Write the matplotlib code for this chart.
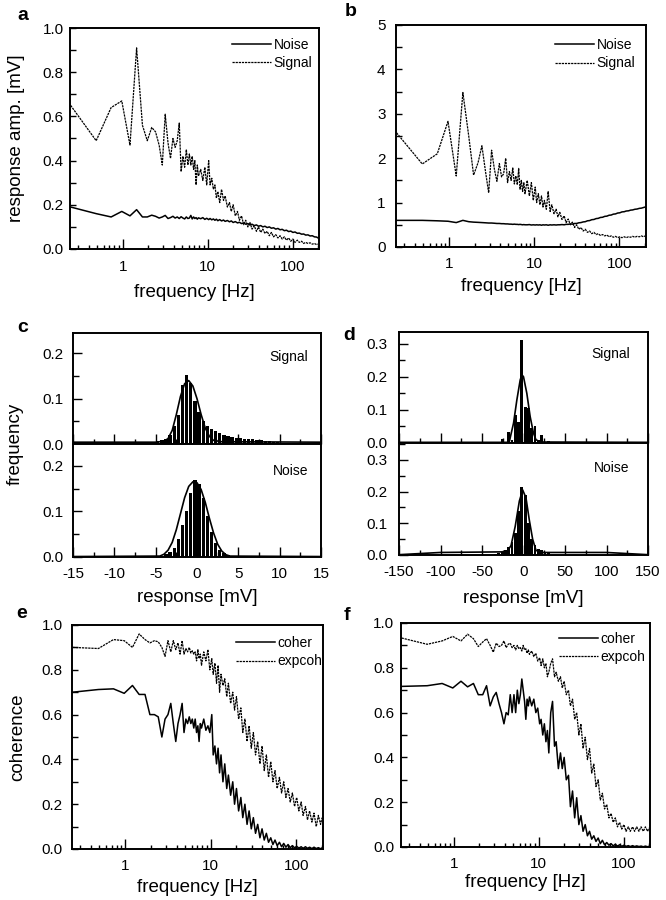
import matplotlib
matplotlib.use('Agg')
import matplotlib.pyplot as plt
from matplotlib.ticker import MultipleLocator, FormatStrFormatter, FixedLocator, LogLocator, NullFormatter

plt.rcParams['font.family'] = ['Liberation Sans', 'DejaVu Sans']
plt.rcParams['axes.unicode_minus'] = False

# frequency axis shared by the spectra (Hz)
freq = [0.244, 0.488, 0.732, 0.977, 1.22, 1.46, 1.71, 1.95, 2.2, 2.44,
        2.69, 2.93, 3.17, 3.42, 3.66, 3.91, 4.15, 4.39, 4.64, 4.88,
        5.13, 5.37, 5.62, 5.86, 6.1, 6.35, 6.59, 6.84, 7.08, 7.32,
        7.57, 7.81, 8.3, 8.79, 9.28, 9.77, 10.3, 10.7, 11.2, 11.7,
        12.2, 12.7, 13.2, 13.9, 14.6, 15.4, 16.1, 17.1, 18.1, 19.0,
        20.0, 21.2, 22.5, 23.7, 25.1, 26.6, 28.1, 29.8, 31.5, 33.4,
        35.4, 37.6, 39.8, 42.2, 44.7, 47.4, 50.3, 53.3, 56.4, 59.8,
        63.5, 67.3, 71.3, 75.6, 80.1, 84.9, 90.0, 95.4, 101, 107,
        114, 120, 128, 135, 143, 152, 161, 171, 181, 192,
        200]

# panel a - response amplitude [mV]
a_noise = [0.19, 0.16, 0.145, 0.17, 0.15, 0.178, 0.145, 0.145, 0.153, 0.148,
           0.14, 0.145, 0.152, 0.138, 0.142, 0.148, 0.14, 0.145, 0.138, 0.146,
           0.14, 0.136, 0.145, 0.138, 0.14, 0.152, 0.136, 0.145, 0.138, 0.142,
           0.135, 0.141, 0.137, 0.142, 0.134, 0.139, 0.133, 0.138, 0.132, 0.136,
           0.13, 0.135, 0.128, 0.133, 0.127, 0.131, 0.125, 0.129, 0.123, 0.127,
           0.12, 0.124, 0.118, 0.121, 0.115, 0.118, 0.112, 0.115, 0.109, 0.112,
           0.106, 0.109, 0.103, 0.106, 0.1, 0.103, 0.097, 0.1, 0.094, 0.096,
           0.09, 0.093, 0.087, 0.089, 0.083, 0.085, 0.079, 0.081, 0.075, 0.077,
           0.071, 0.072, 0.067, 0.068, 0.063, 0.064, 0.059, 0.06, 0.055, 0.054,
           0.05]
a_signal = [0.65, 0.49, 0.64, 0.67, 0.47, 0.91, 0.56, 0.49, 0.55, 0.53,
            0.47, 0.38, 0.61, 0.48, 0.41, 0.50, 0.46, 0.49, 0.57, 0.35,
            0.42, 0.37, 0.45, 0.38, 0.43, 0.38, 0.42, 0.36, 0.40, 0.29,
            0.38, 0.33, 0.36, 0.31, 0.37, 0.29, 0.40, 0.29, 0.32, 0.27,
            0.29, 0.23, 0.26, 0.21, 0.27, 0.22, 0.24, 0.19, 0.21, 0.17,
            0.20, 0.15, 0.17, 0.13, 0.15, 0.11, 0.13, 0.10, 0.12, 0.09,
            0.105, 0.08, 0.10, 0.075, 0.09, 0.07, 0.08, 0.06, 0.075, 0.055,
            0.065, 0.05, 0.06, 0.045, 0.055, 0.04, 0.05, 0.035, 0.045, 0.03,
            0.04, 0.03, 0.035, 0.025, 0.03, 0.025, 0.028, 0.022, 0.025, 0.02,
            0.022]

# panel b
b_noise = [0.6, 0.6, 0.59, 0.58, 0.55, 0.6, 0.57, 0.56, 0.555, 0.55,
           0.545, 0.54, 0.54, 0.535, 0.53, 0.53, 0.525, 0.525, 0.52, 0.52,
           0.515, 0.515, 0.51, 0.515, 0.51, 0.51, 0.505, 0.51, 0.505, 0.5,
           0.505, 0.5, 0.5, 0.505, 0.495, 0.5, 0.495, 0.5, 0.495, 0.5,
           0.49, 0.5, 0.495, 0.5, 0.49, 0.5, 0.495, 0.5, 0.495, 0.5,
           0.5, 0.505, 0.5, 0.51, 0.51, 0.52, 0.515, 0.53, 0.53, 0.545,
           0.55, 0.565, 0.57, 0.59, 0.595, 0.615, 0.62, 0.64, 0.645, 0.665,
           0.67, 0.69, 0.695, 0.715, 0.72, 0.74, 0.745, 0.765, 0.77, 0.79,
           0.795, 0.81, 0.815, 0.83, 0.835, 0.85, 0.855, 0.87, 0.875, 0.89,
           0.9]
b_signal = [2.57, 1.87, 2.1, 2.83, 1.6, 3.48, 2.5, 1.62, 1.9, 2.28,
            1.7, 1.22, 2.18, 1.75, 1.48, 1.88, 1.58, 1.65, 2.0, 1.45,
            1.7, 1.5, 1.78, 1.42, 1.6, 1.4, 1.77, 1.3, 1.5, 1.25,
            1.45, 1.2, 1.5, 1.15, 1.45, 1.05, 1.35, 1.0, 1.2, 0.95,
            1.15, 0.9, 1.05, 0.85, 1.25, 0.8, 0.95, 0.75, 0.85, 0.68,
            0.78, 0.62, 0.7, 0.55, 0.63, 0.5, 0.56, 0.44, 0.5, 0.4,
            0.44, 0.36, 0.4, 0.33, 0.36, 0.3, 0.33, 0.28, 0.3, 0.26,
            0.28, 0.25, 0.27, 0.23, 0.25, 0.22, 0.24, 0.21, 0.23, 0.21,
            0.23, 0.21, 0.23, 0.22, 0.24, 0.22, 0.24, 0.23, 0.25, 0.23,
            0.25]

# panel e - coherence
e_coher = [0.7, 0.712, 0.715, 0.695, 0.73, 0.69, 0.69, 0.6, 0.6, 0.59,
           0.5, 0.58, 0.6, 0.65, 0.56, 0.48, 0.56, 0.6, 0.65, 0.52,
           0.58, 0.56, 0.59, 0.56, 0.58, 0.54, 0.58, 0.52, 0.55, 0.48,
           0.56, 0.54, 0.58, 0.53, 0.55, 0.52, 0.6, 0.42, 0.46, 0.38,
           0.45, 0.34, 0.42, 0.3, 0.38, 0.27, 0.33, 0.24, 0.3, 0.2,
           0.27, 0.17, 0.23, 0.14, 0.2, 0.11, 0.17, 0.09, 0.14, 0.07,
           0.11, 0.05, 0.09, 0.04, 0.07, 0.03, 0.05, 0.02, 0.04, 0.015,
           0.03, 0.01, 0.025, 0.008, 0.02, 0.006, 0.015, 0.005, 0.012, 0.004,
           0.01, 0.003, 0.01, 0.003, 0.008, 0.002, 0.008, 0.002, 0.006, 0.001,
           0.005]
e_expcoh = [0.9, 0.895, 0.935, 0.93, 0.9, 0.96, 0.935, 0.92, 0.93, 0.925,
            0.9, 0.86, 0.93, 0.88, 0.93, 0.89, 0.92, 0.87, 0.93, 0.87,
            0.895, 0.88, 0.9, 0.875, 0.885, 0.87, 0.88, 0.84, 0.89, 0.85,
            0.87, 0.82, 0.88, 0.84, 0.89, 0.8, 0.85, 0.78, 0.83, 0.74,
            0.82, 0.7, 0.78, 0.73, 0.76, 0.68, 0.74, 0.65, 0.7, 0.62,
            0.68, 0.58, 0.63, 0.52, 0.58, 0.48, 0.55, 0.45, 0.52, 0.42,
            0.48, 0.38, 0.46, 0.35, 0.42, 0.32, 0.39, 0.3, 0.35, 0.27,
            0.32, 0.25, 0.3, 0.23, 0.27, 0.21, 0.25, 0.19, 0.23, 0.17,
            0.21, 0.15, 0.19, 0.13, 0.17, 0.12, 0.16, 0.1, 0.15, 0.11,
            0.14]

# panel f
f_coher = [0.717, 0.72, 0.73, 0.71, 0.74, 0.715, 0.73, 0.68, 0.68, 0.72,
           0.63, 0.67, 0.69, 0.64, 0.6, 0.55, 0.6, 0.59, 0.68, 0.6,
           0.68, 0.6, 0.7, 0.64, 0.68, 0.75, 0.7, 0.65, 0.57, 0.66,
           0.63, 0.67, 0.63, 0.66, 0.6, 0.62, 0.55, 0.57, 0.5, 0.55,
           0.47, 0.52, 0.42, 0.6, 0.65, 0.45, 0.47, 0.35, 0.42, 0.35,
           0.4, 0.3, 0.32, 0.18, 0.25, 0.13, 0.22, 0.1, 0.14, 0.07,
           0.1, 0.05, 0.07, 0.035, 0.05, 0.025, 0.04, 0.015, 0.03, 0.01,
           0.02, 0.008, 0.015, 0.005, 0.012, 0.004, 0.01, 0.003, 0.008, 0.003,
           0.006, 0.002, 0.006, 0.002, 0.005, 0.002, 0.004, 0.001, 0.004, 0.001,
           0.003]
f_expcoh = [0.933, 0.905, 0.92, 0.94, 0.92, 0.95, 0.93, 0.895, 0.915, 0.93,
            0.9, 0.87, 0.91, 0.895, 0.9, 0.92, 0.89, 0.905, 0.91, 0.89,
            0.9, 0.88, 0.9, 0.885, 0.89, 0.875, 0.9, 0.88, 0.885, 0.865,
            0.88, 0.86, 0.875, 0.85, 0.865, 0.83, 0.845, 0.81, 0.84, 0.8,
            0.82, 0.76, 0.78, 0.82, 0.84, 0.76, 0.78, 0.74, 0.76, 0.71,
            0.74, 0.68, 0.7, 0.63, 0.66, 0.57, 0.6, 0.5, 0.55, 0.44,
            0.49, 0.39, 0.44, 0.33, 0.37, 0.27, 0.3, 0.21, 0.24, 0.17,
            0.19, 0.13, 0.15, 0.11, 0.13, 0.09, 0.11, 0.08, 0.1, 0.07,
            0.09, 0.07, 0.09, 0.07, 0.09, 0.07, 0.09, 0.07, 0.09, 0.07,
            0.085]

# panel c - histograms (bin centre mV, fraction) and fitted curves
c_sig_bins = [-6.25, -5.75, -5.25, -4.75, -4.25, -3.75, -3.25, -2.75, -2.25, -1.75,
              -1.25, -0.75, -0.25, 0.25, 0.75, 1.25, 1.75, 2.25, 2.75, 3.25,
              3.75, 4.25, 4.75, 5.25, 5.75, 6.25, 6.75, 7.25, 7.75, 8.25,
              8.75, 9.25, 9.75]
c_sig_hist = [0.002, 0.003, 0.004, 0.006, 0.008, 0.012, 0.02, 0.04, 0.065, 0.13,
              0.152, 0.135, 0.095, 0.07, 0.05, 0.04, 0.033, 0.028, 0.024, 0.02,
              0.018, 0.016, 0.014, 0.013, 0.012, 0.011, 0.01, 0.009, 0.008, 0.007,
              0.006, 0.005, 0.004]
c_sig_fit_x = [-15, -5, -4, -3.5, -3, -2.5, -2, -1.5, -1, -0.5, 0, 0.5, 1, 1.5, 2, 3, 15]
c_sig_fit = [0.004, 0.004, 0.006, 0.012, 0.03, 0.065, 0.105, 0.133, 0.14, 0.128,
             0.1, 0.065, 0.035, 0.017, 0.008, 0.005, 0.004]
c_noi_bins = [-4.25, -3.75, -3.25, -2.75, -2.25, -1.75, -1.25, -0.75, -0.25, 0.25,
              0.75, 1.25, 1.75, 2.25, 2.75, 3.25, 3.75, 4.25]
c_noi_hist = [0.003, 0.006, 0.012, 0.02, 0.04, 0.07, 0.1, 0.14, 0.17, 0.16,
              0.13, 0.09, 0.055, 0.03, 0.015, 0.008, 0.004, 0.002]
c_noi_fit_x = [-15, -4.5, -4, -3.5, -3, -2.5, -2, -1.5, -1, -0.5,
               0, 0.5, 1, 1.5, 2, 2.5, 3, 3.5, 4, 15]
c_noi_fit = [0.001, 0.002, 0.006, 0.015, 0.032, 0.06, 0.095, 0.13, 0.155, 0.165,
             0.163, 0.148, 0.12, 0.085, 0.053, 0.028, 0.013, 0.005, 0.002, 0.001]

# panel d
d_sig_bins = [-30, -26, -22, -18, -14, -10, -6, -2, 2, 6, 10, 14, 18, 22, 26, 30]
d_sig_hist = [0.002, 0.012, 0.004, 0.032, 0.01, 0.086, 0.062, 0.31, 0.11, 0.105,
              0.045, 0.05, 0.01, 0.023, 0.004, 0.007]
d_sig_fit_x = [-150, -20, -17, -12, -8, -4, -2, 0, 4, 8, 12, 15, 20, 150]
d_sig_fit = [0.002, 0.002, 0.005, 0.06, 0.13, 0.19, 0.206, 0.2, 0.15, 0.08,
             0.03, 0.01, 0.003, 0.002]
d_noi_bins = [-34, -30, -26, -22, -18, -14, -10, -6, -2, 2, 6, 10, 14, 18, 22, 26, 30]
d_noi_hist = [0.003, 0.006, 0.01, 0.015, 0.025, 0.04, 0.07, 0.14, 0.215, 0.19,
              0.1, 0.05, 0.03, 0.02, 0.015, 0.01, 0.005]
d_noi_fit_x = [-150, -100, -20, -15, -10, -5, -1, 3, 7, 11, 15, 20, 100, 150]
d_noi_fit = [0.001, 0.008, 0.01, 0.03, 0.09, 0.17, 0.205, 0.18, 0.11, 0.05,
             0.015, 0.008, 0.008, 0.001]

W, H = 666, 900
TICK = 11
LABEL = 13.5


def box(l, t, r, b):
    # pixel box -> figure fraction
    return [l / W, 1 - b / H, (r - l) / W, (b - t) / H]


def style(ax, ypad):
    for s in ax.spines.values():
        s.set_linewidth(1.4)
    ax.tick_params(axis='y', which='both', direction='in', width=1, pad=ypad,
                   labelsize=TICK, right=False)
    ax.tick_params(axis='x', which='both', direction='in', width=1, top=False)


def spectrum(ax, lines, labels, ymax, ystep, fmt, leg, xlab_y, ylab=None, xpad=8, ypad=5):
    ax.plot(freq, lines[0], color='black', lw=1.1, label=labels[0])
    ax.plot(freq, lines[1], color='black', lw=0.9, ls=(0, (1.8, 0.7)), label=labels[1])
    ax.set_xscale('log')
    ax.set_xlim(0.24, 205)
    ax.set_ylim(0, ymax)
    ax.xaxis.set_major_locator(FixedLocator([1, 10, 100]))
    ax.xaxis.set_major_formatter(FormatStrFormatter('%g'))
    ax.xaxis.set_minor_locator(LogLocator(base=10, subs=[2, 3, 4, 5, 6, 7, 8, 9], numticks=20))
    ax.xaxis.set_minor_formatter(NullFormatter())
    ax.yaxis.set_major_locator(MultipleLocator(ystep))
    ax.yaxis.set_minor_locator(MultipleLocator(ystep / 2))
    ax.yaxis.set_major_formatter(FormatStrFormatter(fmt))
    style(ax, ypad)
    ax.tick_params(axis='x', which='major', length=7, pad=xpad, labelsize=TICK)
    ax.tick_params(axis='x', which='minor', length=3.2)
    ax.tick_params(axis='y', which='both', length=4)
    ax.set_xlabel('frequency [Hz]', fontsize=LABEL, va='center')
    ax.xaxis.set_label_coords(0.5, xlab_y)
    if ylab:
        ax.set_ylabel(ylab, fontsize=LABEL, va='center')
        ax.yaxis.set_label_coords(-0.215, 0.5)
    ax.legend(loc='upper left', bbox_to_anchor=leg, frameon=False, fontsize=10,
              borderpad=0, borderaxespad=0, handlelength=2.8, handletextpad=0.2,
              labelspacing=0.3)


def histo(ax, bins, hist, width, fit_x, fit, ymax, xlim, xmaj, txt, txt_xy, ypad, bottom):
    ax.bar(bins, hist, width=width * 0.82, color='black', linewidth=0)
    ax.plot(fit_x, fit, color='black', lw=1.2)
    ax.set_xlim(-xlim, xlim)
    ax.set_ylim(0, ymax)
    ax.xaxis.set_major_locator(MultipleLocator(xmaj))
    ax.xaxis.set_minor_locator(MultipleLocator(xmaj / 2))
    ax.yaxis.set_major_locator(MultipleLocator(0.1))
    ax.yaxis.set_minor_locator(MultipleLocator(0.05))
    ax.yaxis.set_major_formatter(FormatStrFormatter('%.1f'))
    style(ax, ypad)
    ax.tick_params(axis='x', which='major', length=7, pad=7.5, labelsize=TICK)
    ax.tick_params(axis='x', which='minor', length=3.5)
    ax.tick_params(axis='y', which='major', length=6.5)
    ax.tick_params(axis='y', which='minor', length=4)
    if not bottom:
        ax.tick_params(axis='x', labelbottom=False)
    ax.text(txt_xy[0], txt_xy[1], txt, transform=ax.transAxes, ha='right',
            va='center', fontsize=10)


fig = plt.figure(figsize=(6.66, 9.0), dpi=100)

ax_a = fig.add_axes(box(70, 28, 319, 249))
spectrum(ax_a, [a_noise, a_signal], ['Noise', 'Signal'], 1.0, 0.2, '%.1f',
         (0.65, 0.955), -0.195, ylab='response amp. [mV]', ypad=4.5)

ax_b = fig.add_axes(box(396, 25, 646, 247))
spectrum(ax_b, [b_noise, b_signal], ['Noise', 'Signal'], 5, 1, '%d',
         (0.635, 0.94), -0.176, ypad=7.5, xpad=7.5)

ax_c1 = fig.add_axes(box(73, 333, 321, 444))
histo(ax_c1, c_sig_bins, c_sig_hist, 0.5, c_sig_fit_x, c_sig_fit, 0.245, 15, 5,
      'Signal', (0.948, 0.784), 6.5, False)
ax_c2 = fig.add_axes(box(73, 444, 321, 557))
histo(ax_c2, c_noi_bins, c_noi_hist, 0.5, c_noi_fit_x, c_noi_fit, 0.248, 15, 5,
      'Noise', (0.948, 0.761), 6.5, True)
ax_c2.set_xlabel('response [mV]', fontsize=LABEL, va='center')
ax_c2.xaxis.set_label_coords(0.5, -0.36)

ax_d1 = fig.add_axes(box(399, 332, 648, 443))
histo(ax_d1, d_sig_bins, d_sig_hist, 4, d_sig_fit_x, d_sig_fit, 0.335, 150, 50,
      'Signal', (0.928, 0.80), 8.5, False)
ax_d2 = fig.add_axes(box(399, 443, 648, 555))
histo(ax_d2, d_noi_bins, d_noi_hist, 4, d_noi_fit_x, d_noi_fit, 0.353, 150, 50,
      'Noise', (0.924, 0.777), 8.5, True)
ax_d2.set_xlabel('response [mV]', fontsize=LABEL, va='center')
ax_d2.xaxis.set_label_coords(0.5, -0.39)

ax_e = fig.add_axes(box(72, 625, 323, 849))
spectrum(ax_e, [e_coher, e_expcoh], ['coher', 'expcoh'], 1.0, 0.2, '%.1f',
         (0.652, 0.95), -0.17, ylab='coherence', ypad=6.5, xpad=7)

ax_f = fig.add_axes(box(401, 623, 650, 847))
spectrum(ax_f, [f_coher, f_expcoh], ['coher', 'expcoh'], 1.0, 0.2, '%.1f',
         (0.635, 0.96), -0.16, ypad=5, xpad=7)

fig.text(15 / W, 1 - 444 / H, 'frequency', rotation=90, fontsize=LABEL,
         ha='center', va='center')

for letter, x, y in [('a', 23, 15), ('b', 351, 12), ('c', 23, 327),
                     ('d', 349, 336), ('e', 22, 613), ('f', 347, 615)]:
    fig.text(x / W, 1 - y / H, letter, fontsize=14, fontweight='bold',
             ha='center', va='center')

fig.savefig('out.png', dpi=100)
